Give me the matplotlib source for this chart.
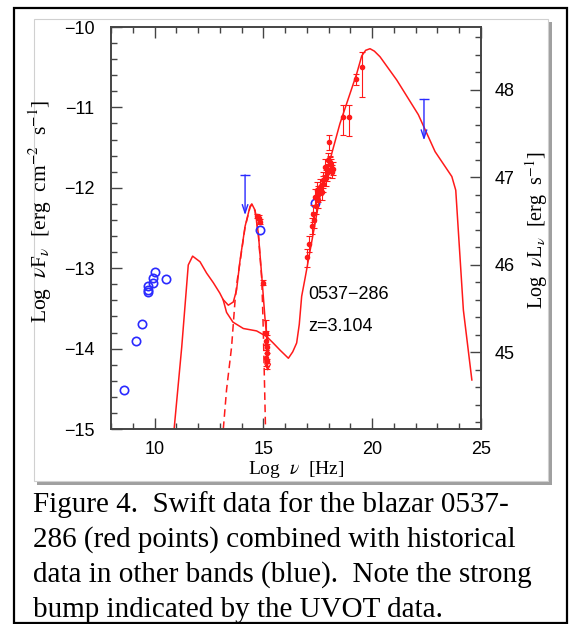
import matplotlib
matplotlib.use('Agg')
import matplotlib.pyplot as plt
from matplotlib.patches import Rectangle
from matplotlib.ticker import MultipleLocator

plt.rcParams['mathtext.fontset'] = 'stix'

W, H = 574, 624

# Jet model (solid): synchrotron + inverse Compton
jet_x = [10.90, 11.25, 11.55, 11.75, 12.09, 12.39, 12.70, 13.00, 13.15, 13.31, 13.60,
         14.08, 14.69, 15.15, 15.45, 15.77, 16.15, 16.35, 16.53, 16.65, 16.76, 16.92,
         17.60, 18.52, 19.29, 19.52, 19.70, 19.90, 20.10, 20.36, 21.13, 22.12, 22.89,
         23.66, 23.84, 24.19, 24.58]
jet_y = [-15.00, -13.98, -12.96, -12.85, -12.92, -13.06, -13.18, -13.31, -13.39, -13.55, -13.67,
         -13.75, -13.78, -13.85, -13.93, -14.02, -14.12, -14.04, -13.93, -13.70, -13.35, -13.12,
         -12.11, -11.20, -10.58, -10.36, -10.29, -10.27, -10.30, -10.37, -10.66, -11.09, -11.55,
         -11.86, -12.03, -13.52, -14.39]

# Total model including the accretion disk bump (solid)
tot_x = [13.15, 13.39, 13.62, 13.77, 13.93, 14.16, 14.39, 14.47, 14.62, 14.77, 14.93, 15.08, 15.15]
tot_y = [-13.39, -13.46, -13.42, -13.27, -12.90, -12.48, -12.23, -12.20, -12.28, -12.57, -13.11, -13.64, -13.85]

# Accretion disk component (dashed)
disk_x = [13.16, 13.31, 13.54, 13.70, 13.80, 13.93, 14.16, 14.39, 14.47, 14.62, 14.77, 14.93, 15.00, 15.05, 15.10]
disk_y = [-15.00, -14.51, -13.98, -13.40, -13.15, -12.92, -12.49, -12.24, -12.21, -12.29, -12.58, -13.15, -13.80, -14.40, -15.00]

# Swift UVOT points
uv_x = [14.72, 14.80, 14.86, 14.98, 15.10, 15.13, 15.15, 15.17, 15.12, 15.19]
uv_y = [-12.35, -12.37, -12.42, -13.18, -13.80, -13.90, -13.98, -14.06, -14.12, -14.15]
uv_err = [0.03, 0.03, 0.03, 0.03, 0.15, 0.12, 0.15, 0.12, 0.10, 0.10]

# Swift XRT / BAT points
xr_x = [19.55, 19.26, 18.68, 18.95, 18.02, 18.19, 18.06, 17.99, 17.83, 17.91, 17.76, 17.60,
        17.45, 17.68, 17.37, 17.53, 17.42, 17.33, 17.22, 17.11, 16.99, 18.10, 18.15, 17.95,
        17.72, 17.50, 17.28, 17.86, 18.08]
xr_y = [-10.50, -10.65, -11.12, -11.12, -11.43, -11.76, -11.70, -11.65, -11.74, -11.82, -11.90, -11.99,
        -12.03, -12.05, -12.11, -12.15, -12.23, -12.40, -12.48, -12.70, -12.86, -11.72, -11.80, -11.78,
        -11.95, -12.08, -12.32, -11.88, -11.68]
xr_lo = [0.37, 0.07, 0.22, 0.24, 0.10, 0.08, 0.08, 0.08, 0.10, 0.10, 0.10, 0.10,
         0.10, 0.10, 0.10, 0.10, 0.10, 0.10, 0.10, 0.10, 0.12, 0.08, 0.08, 0.08,
         0.10, 0.10, 0.10, 0.10, 0.08]
xr_hi = [0.19, 0.07, 0.15, 0.15, 0.09, 0.08, 0.08, 0.08, 0.10, 0.10, 0.10, 0.10,
         0.10, 0.10, 0.10, 0.10, 0.10, 0.10, 0.10, 0.10, 0.10, 0.08, 0.08, 0.08,
         0.10, 0.10, 0.10, 0.10, 0.08]

# Red upper limit (UVOT)
rl_x = [15.20]
rl_top = [-13.85]
rl_tip = [-14.28]

# Historical data (blue)
hist_x = [8.61, 9.16, 9.44, 9.71, 9.71, 9.70, 9.92, 9.92, 10.04, 10.53, 14.85, 17.37]
hist_y = [-14.51, -13.91, -13.70, -13.30, -13.27, -13.22, -13.18, -13.12, -13.05, -13.14, -12.52, -12.19]

# Historical upper limits (blue)
bl_x = [14.16, 22.38]
bl_top = [-11.84, -10.90]
bl_tip = [-12.34, -11.41]

caption = ["Figure 4.  Swift data for the blazar 0537-",
           "286 (red points) combined with historical",
           "data in other bands (blue).  Note the strong",
           "bump indicated by the UVOT data."]

red = '#ff1a1a'
blue = '#2a2aff'
spine_c = '#444444'

fig = plt.figure(figsize=(W / 100, H / 100), dpi=100)


def fx(px):
    return px / W


def fy(py):
    return 1 - py / H


# outer frame and picture card with shadow (behind the axes)
fig.patches.append(Rectangle((fx(14), fy(623)), fx(553), 615 / H, transform=fig.transFigure,
                             fill=False, ec='black', lw=1.6, zorder=-10))
fig.patches.append(Rectangle((fx(37), fy(485)), fx(515), 463 / H, transform=fig.transFigure,
                             fc='#a0a0a0', ec='none', zorder=-10))
fig.patches.append(Rectangle((fx(34), fy(481)), fx(514), 462 / H, transform=fig.transFigure,
                             fc='white', ec='#d0d0d0', lw=0.8, zorder=-9))

ax = fig.add_axes([fx(111), fy(429), (481 - 111) / W, (429 - 27) / H])
ax.set_xlim(8, 25)
ax.set_ylim(-15, -10)

ax.plot(jet_x, jet_y, color=red, lw=1.1)
ax.plot(tot_x, tot_y, color=red, lw=1.1)
ax.plot(disk_x, disk_y, color=red, lw=1.1, ls=(0, (5, 3)))

ax.plot(hist_x, hist_y, 'o', mfc='none', mec=blue, ms=6, mew=1.2)

ax.errorbar(uv_x, uv_y, yerr=uv_err, fmt='o', color=red, ms=3, elinewidth=0.8,
            capsize=2, capthick=0.8)
ax.errorbar(xr_x, xr_y, yerr=[xr_lo, xr_hi], fmt='o', color=red, ms=3, elinewidth=0.8,
            capsize=2.5, capthick=0.8)

for x, y0, y1 in zip(rl_x, rl_top, rl_tip):
    ax.annotate('', xy=(x, y1), xytext=(x, y0),
                arrowprops=dict(arrowstyle='->', color=red, lw=0.9, shrinkA=0, shrinkB=0))
for x, y0, y1 in zip(bl_x, bl_top, bl_tip):
    ax.annotate('', xy=(x, y1), xytext=(x, y0),
                arrowprops=dict(arrowstyle='->,head_length=0.6,head_width=0.2', color=blue,
                                lw=1.0, shrinkA=0, shrinkB=0))
    ax.plot([x], [y0], marker='_', ms=7, mew=1.0, color=blue)

ax.text(17.05, -13.33, '0537\u2212286', fontsize=13, family='Liberation Sans', va='center')
ax.text(17.05, -13.73, 'z=3.104', fontsize=13, family='Liberation Sans', va='center')

ax.xaxis.set_major_locator(MultipleLocator(5))
ax.xaxis.set_minor_locator(MultipleLocator(1))
ax.yaxis.set_major_locator(MultipleLocator(1))
ax.yaxis.set_minor_locator(MultipleLocator(0.2))
ax.tick_params(which='both', direction='in', top=True, right=False, color=spine_c, width=1.0)
ax.tick_params(which='major', length=8)
ax.tick_params(which='minor', length=4.2)
ax.tick_params(axis='y', pad=12, labelsize=13)
ax.tick_params(axis='x', pad=9, labelsize=13)
for lab in ax.get_xticklabels() + ax.get_yticklabels():
    lab.set_family('Liberation Sans')

ax2 = ax.twinx()
ax2.set_ylim(44.12, 48.72)
ax2.yaxis.set_major_locator(MultipleLocator(1))
ax2.yaxis.set_minor_locator(MultipleLocator(0.2))
ax2.tick_params(which='both', direction='in', color=spine_c, width=1.0)
ax2.tick_params(which='major', length=8, pad=10, labelsize=13)
ax2.tick_params(which='minor', length=4.2)
for lab in ax2.get_yticklabels():
    lab.set_family('Liberation Sans')

for a in (ax, ax2):
    for s in a.spines.values():
        s.set_color(spine_c)
        s.set_linewidth(1.2)

ax.text(0.5, -0.1, r'Log  $\nu$  [Hz]', transform=ax.transAxes, ha='center', va='center',
        fontsize=14, family='Liberation Serif')
ax.text(-0.192, 0.542, r'Log  $\nu$F$_\nu$  [erg  cm$^{-2}$  s$^{-1}$]', transform=ax.transAxes,
        ha='center', va='center', rotation=90, fontsize=15.5, family='Liberation Serif')
ax.text(1.151, 0.495, r'Log  $\nu$L$_\nu$  [erg  s$^{-1}$]', transform=ax.transAxes,
        ha='center', va='center', rotation=90, fontsize=14.5, family='Liberation Serif')

for i, line in enumerate(caption):
    fig.text(fx(33), fy(512 + 35 * i), line, fontsize=21, family='Liberation Serif',
             va='baseline', ha='left')

fig.savefig('out.png', dpi=100)
